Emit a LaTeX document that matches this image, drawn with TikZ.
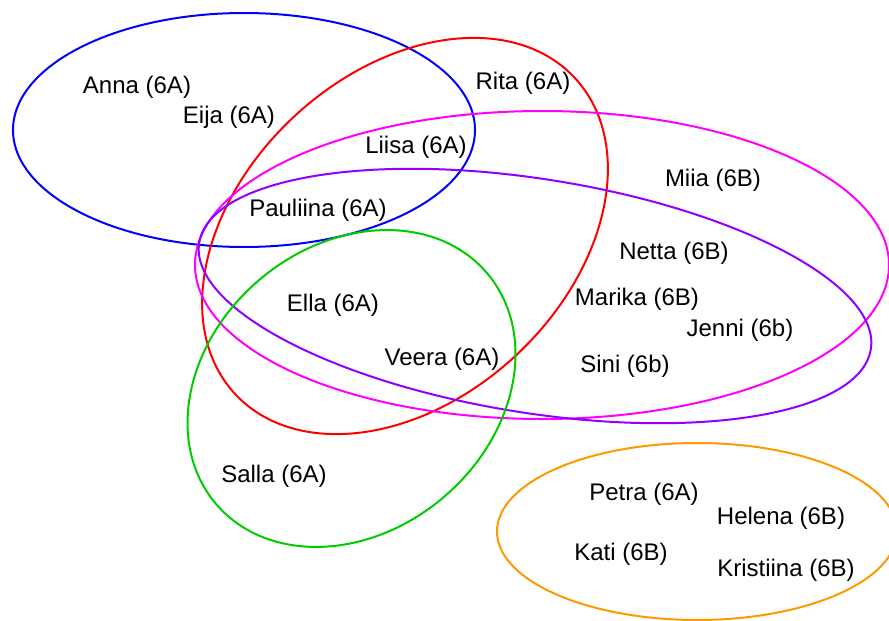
\documentclass[tikz,border=0pt]{standalone}
\usepackage{fontspec}
\setmainfont{Liberation Sans}
\usetikzlibrary{positioning}
\definecolor{magentaline}{RGB}{255,0,255}
\definecolor{violetline}{RGB}{145,0,255}
\definecolor{greenline}{RGB}{0,205,0}
\definecolor{orangeline}{RGB}{255,153,0}

\begin{document}
\begin{tikzpicture}[x=0.5pt ,y=-0.5pt ,
groupset/.style ={ line width =1pt },
pupil/.style ={ font=\fontsize{12}{14}\selectfont , inner sep =0pt , yshift =-1pt }
]
\clip (0,0) rectangle (889,621);
\useasboundingbox (0,0) rectangle (889,621);
% sets
\draw[groupset ,blue] (244,130) ellipse [x radius =115.5pt ,y radius =58.5pt];
\draw[groupset ,red ,rotate around ={43:(405,236)}] (405,236) ellipse [x radius =116pt ,y radius =81.5pt];
\draw[groupset ,magentaline] (542,265) ellipse [x radius =173.5pt ,y radius =77pt];
\draw[groupset ,violetline ,rotate around ={-9:(535,296)}] (535,296) ellipse [x radius =170pt ,y radius =58.5pt];
\draw[groupset ,greenline ,rotate around ={40.5:(351.5,388.5)}] (351.5,388.5) ellipse [x radius =89pt ,y radius =71.25pt];
\draw[groupset ,orangeline] (697,531.5) ellipse [x radius =100pt ,y radius =44.25pt];
% names
\node[pupil] (Anna) at (137,85) {Anna (6A)};
\node[pupil] (Eija) at (229,115) {Eija (6A)};
\node[pupil] (Rita) at (523,81) {Rita (6A)};
\node[pupil] (Liisa) at (416,145) {Liisa (6A)};
\node[pupil] (Miia) at (713,178) {Miia (6B)};
\node[pupil] (Pauliina) at (318,208) {Pauliina (6A)};
\node[pupil] (Netta) at (674,251) {Netta (6B)};
\node[pupil] (Marika) at (637,297) {Marika (6B)};
\node[pupil] (Ella) at (333,303) {Ella (6A)};
\node[pupil] (Jenni) at (740,328) {Jenni (6b)};
\node[pupil] (Veera) at (442,357) {Veera (6A)};
\node[pupil] (Sini) at (625,364) {Sini (6b)};
\node[pupil] (Salla) at (274,474) {Salla (6A)};
\node[pupil] (Petra) at (644,492) {Petra (6A)};
\node[pupil] (Helena) at (781,516) {Helena (6B)};
\node[pupil] (Kati) at (621,552) {Kati (6B)};
\node[pupil] (Kristiina) at (786,568) {Kristiina (6B)};
\end{tikzpicture}
\end{document}
